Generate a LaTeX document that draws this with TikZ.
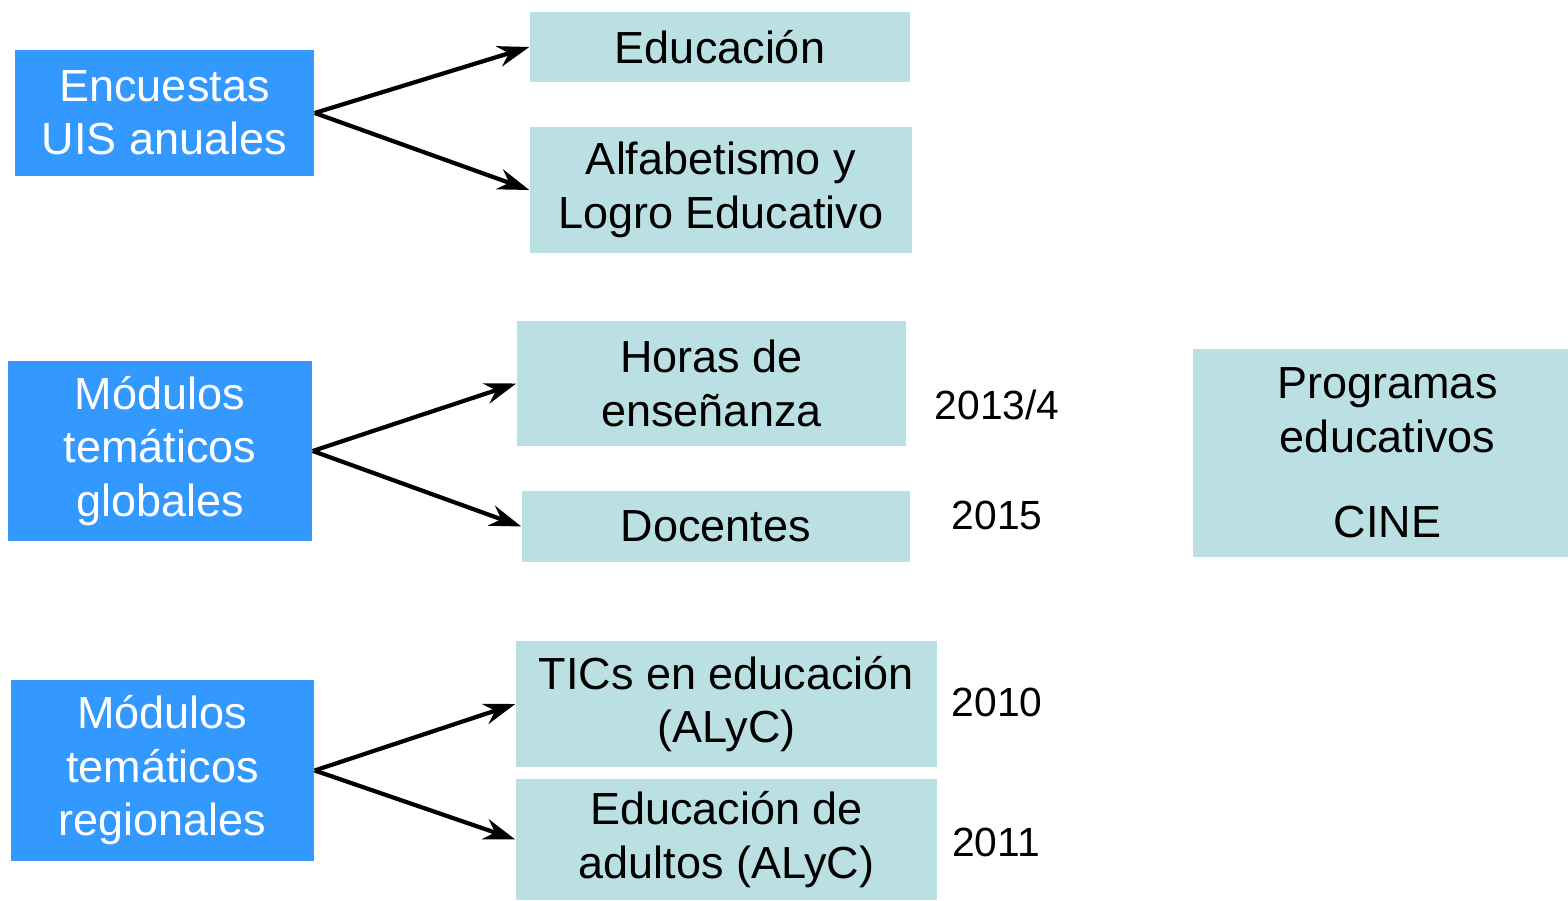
\documentclass[tikz,border=0pt]{standalone}
\usepackage{fontspec}
\setmainfont{Liberation Sans}
\usetikzlibrary{arrows.meta}
\definecolor{uisblue}{RGB}{51,153,255}
\definecolor{uisteal}{RGB}{187,224,227}
\begin{document}
\begin{tikzpicture}[
        src/.style={fill=uisblue, text=white, align=center, inner sep=0pt},
        dst/.style={fill=uisteal, text=black, align=center, inner sep=0pt},
        year/.style={font=\fontsize{11.6}{14}\selectfont},
        >={Stealth[length=9pt,width=6pt]}
    ]
    \useasboundingbox (0,0) rectangle (15.68,9);
    \fontsize{12.8}{15.2}\selectfont

    \node[src, minimum width=2.99cm, minimum height=1.26cm] (E)  at (1.645,7.87)  {Encuestas\\UIS anuales};
    \node[src, minimum width=3.04cm, minimum height=1.80cm] (G)  at (1.60,4.49)   {Módulos\\temáticos\\globales};
    \node[src, minimum width=3.03cm, minimum height=1.81cm] (R)  at (1.625,1.295) {Módulos\\temáticos\\regionales};

    \node[dst, minimum width=3.80cm, minimum height=0.70cm] (Ed) at (7.20,8.53)   {Educación};
    \node[dst, minimum width=3.82cm, minimum height=1.26cm] (Al) at (7.21,7.10)   {Alfabetismo y\\Logro Educativo};
    \node[dst, minimum width=3.89cm, minimum height=1.25cm] (Ho) at (7.115,5.165) {Horas de\\enseñanza};
    \node[dst, minimum width=3.88cm, minimum height=0.71cm] (Do) at (7.16,3.735)  {Docentes};
    \node[dst, minimum width=4.21cm, minimum height=1.26cm] (Ti) at (7.265,1.96)  {TICs en educación\\(ALyC)};
    \node[dst, minimum width=4.21cm, minimum height=1.21cm] (Ad) at (7.265,0.605) {Educación de\\adultos (ALyC)};
    \node[dst, minimum width=3.75cm, minimum height=2.08cm] (P)  at (13.805,4.47) {\hspace*{0.14cm}Programas\\\hspace*{0.14cm}educativos\\[0.32cm]\hspace*{0.14cm}CINE};

    \node[year] (y1) at (9.97,4.95) {2013/4};
    \node[year] (y2) at (9.97,3.85) {2015};
    \node[year] (y3) at (9.97,1.98) {2010};
    \node[year] (y4) at (9.96,0.58) {2011};

    \draw [->, line width=1.2pt] (E.east) -- (Ed.west);
    \draw [->, line width=1.2pt] (E.east) -- (Al.west);
    \draw [->, line width=1.2pt] (G.east) -- (Ho.west);
    \draw [->, line width=1.2pt] (G.east) -- (Do.west);
    \draw [->, line width=1.2pt] (R.east) -- (Ti.west);
    \draw [->, line width=1.2pt] (R.east) -- (Ad.west);
\end{tikzpicture}
\end{document}
